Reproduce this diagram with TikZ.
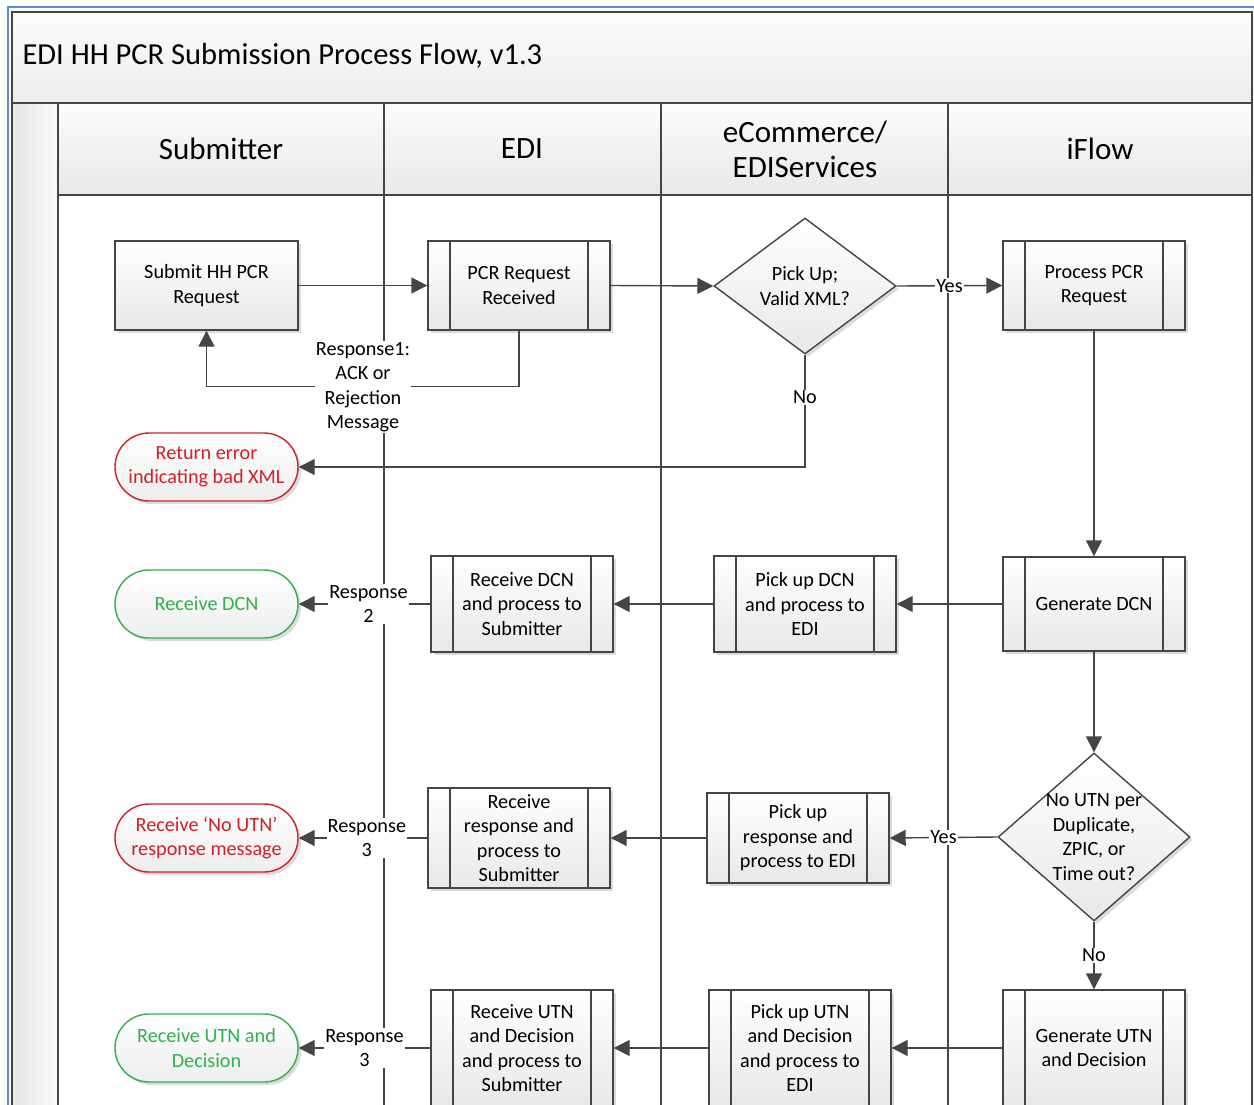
\documentclass[tikz,border=0pt]{standalone}
\usepackage{fontspec}
\setmainfont{Carlito}
\usetikzlibrary{shapes.geometric,shadows,arrows.meta}
\definecolor{lncol}{HTML}{454545}
\definecolor{redc}{HTML}{D0202A}
\definecolor{greenc}{HTML}{2FB24A}
\definecolor{blueb}{HTML}{5B8BD0}
\begin{document}
\begin{tikzpicture}[x=1pt,y=-1pt,
  txt/.style={font=\fontsize{20.2}{24.5}\selectfont, align=center, text=black},
  shad/.style={drop shadow={shadow xshift=3pt,shadow yshift=-3pt,fill=black!35,opacity=0.4}},
  procbox/.style={txt, shad, draw=lncol, line width=1.4pt, top color=white, bottom color=black!9, minimum width=183pt, minimum height=89pt, inner sep=2pt},
  subproc/.style={procbox, path picture={\draw[lncol,line width=1.4pt] ([xshift=22pt]path picture bounding box.north west) -- ([xshift=22pt]path picture bounding box.south west) ([xshift=-22pt]path picture bounding box.north east) -- ([xshift=-22pt]path picture bounding box.south east);}},
  decision/.style={diamond, shad, draw=lncol, line width=1.4pt, top color=white, bottom color=black!9, inner sep=0pt},
  term/.style={txt, shad, rounded corners=34pt, line width=1.4pt, minimum width=183pt, minimum height=68pt, top color=white, bottom color=black!7},
  lbl/.style={txt, fill=white, inner sep=1pt},
  hdr/.style={font=\fontsize{31}{35}\selectfont, align=center, text=black},
  lane/.style={draw=lncol, line width=1.4pt},
  arr/.style={draw=lncol, line width=1.4pt, -{Triangle[length=16pt,width=16pt]}}
]
\path[use as bounding box, fill=white] (0,0) rectangle (1254,1105);
\clip (0,0) rectangle (1254,1105);
% frame
\shade[top color=black!1, bottom color=black!7] (12,12) rectangle (1252,103);
\shade[top color=black!1, bottom color=black!9] (58,103) rectangle (1252,195);
\shade[left color=black!10, right color=black!2] (12,103) rectangle (58,1110);
\draw[blueb, line width=2pt] (8,1110) -- (8,7) -- (1256,7);
\draw[lane] (12,1110) -- (12,12) -- (1252,12) -- (1252,1110);
\draw[lane] (12,103) -- (1252,103);
\draw[lane] (58,195) -- (1252,195);
\foreach \x in {58,384,661,948} \draw[lane] (\x,103) -- (\x,1110);
\node[anchor=west, font=\fontsize{30.5}{34}\selectfont, text=black] (title) at (19,56) {EDI HH PCR Submission Process Flow, v1.3};
\node[hdr] (hsub) at (221,149) {Submitter};
\node[hdr] (hedi) at (522,149) {EDI};
\node[hdr] (heco) at (805,149) {eCommerce/\\EDIServices};
\node[hdr] (hifl) at (1100,149) {iFlow};
% nodes
\node[procbox] (sub) at (206.5,285.5) {Submit HH PCR\\Request};
\node[subproc, minimum width=182pt] (pcr) at (519,285.5) {PCR Request\\Received};
\node[decision, minimum width=182pt, minimum height=136pt, label={[txt]center:Pick Up;\\Valid XML?}] (d1) at (805,286) {};
\node[subproc, minimum width=182pt] (proc) at (1094,285.5) {Process PCR\\Request};
\node[term, draw=redc, text=redc] (err) at (206.5,467) {Return error\\indicating bad XML};
\node[subproc, minimum width=182pt, minimum height=94pt] (gdcn) at (1094,604) {Generate DCN};
\node[subproc, minimum width=182pt, minimum height=96pt] (pudcn) at (805,604) {Pick up DCN\\and process to\\EDI};
\node[subproc, minimum width=182pt, minimum height=96pt] (rdcn) at (522,604) {Receive DCN\\and process to\\Submitter};
\node[term, draw=greenc, text=greenc] (recdcn) at (206.5,604) {Receive DCN};
\node[decision, minimum width=192pt, minimum height=168pt, label={[txt]center:No UTN per\\Duplicate,\\ZPIC, or\\Time out?}] (d2) at (1094,837) {};
\node[subproc, minimum width=182pt, minimum height=90pt] (pur) at (798,838) {Pick up\\response and\\process to EDI};
\node[subproc, minimum width=182pt, minimum height=100pt] (rr) at (519,838) {Receive\\response and\\process to\\Submitter};
\node[term, draw=redc, text=redc] (rnu) at (206.5,838) {Receive ‘No UTN’\\response message};
\node[subproc, minimum width=182pt, minimum height=116pt] (gutn) at (1094,1048) {Generate UTN\\and Decision};
\node[subproc, minimum width=182pt, minimum height=116pt] (puutn) at (800,1048) {Pick up UTN\\and Decision\\and process to\\EDI};
\node[subproc, minimum width=182pt, minimum height=116pt] (rutn) at (522,1048) {Receive UTN\\and Decision\\and process to\\Submitter};
\node[term, draw=greenc, text=greenc] (rud) at (206.5,1048) {Receive UTN and\\Decision};
% connectors
\draw[arr] (sub.east) -- (pcr.west);
\draw[arr] (pcr.east) -- (d1.west);
\draw[arr] (d1.east) -- node[lbl]{Yes} (proc.west);
\draw[arr] (pcr.south) -- ++(0,56) -| (sub.south);
\node[lbl] (r1) at (363,387) {Response1:\\ACK or\\Rejection\\Message};
\draw[arr] (d1.south) |- node[lbl,pos=0.19]{No} (err.east);
\draw[arr] (proc.south) -- (gdcn.north);
\draw[arr] (gdcn.west) -- (pudcn.east);
\draw[arr] (pudcn.west) -- (rdcn.east);
\draw[arr] (rdcn.west) -- node[lbl,pos=0.47]{Response\\2} (recdcn.east);
\draw[arr] (gdcn.south) -- (d2.north);
\draw[arr] (d2.west) -- node[lbl]{Yes} (pur.east);
\draw[arr] (pur.west) -- (rr.east);
\draw[arr] (rr.west) -- node[lbl,pos=0.47]{Response\\3} (rnu.east);
\draw[arr] (d2.south) -- node[lbl]{No} (gutn.north);
\draw[arr] (gutn.west) -- (puutn.east);
\draw[arr] (puutn.west) -- (rutn.east);
\draw[arr] (rutn.west) -- node[lbl]{Response\\3} (rud.east);
\end{tikzpicture}
\end{document}
